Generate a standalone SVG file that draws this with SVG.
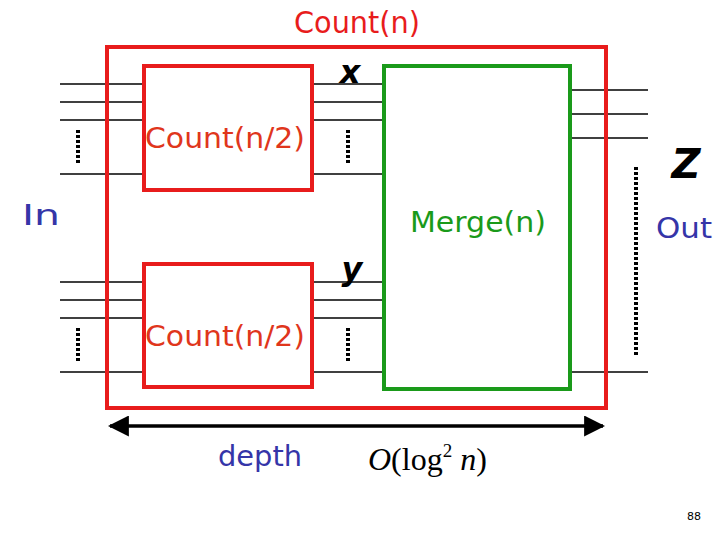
<svg xmlns="http://www.w3.org/2000/svg" width="720" height="540" viewBox="0 0 720 540">
<defs>
<style>
.t{font-family:"DejaVu Sans","Liberation Sans",sans-serif}
.w{stroke:#000;stroke-width:1.3}
.dot{stroke:#000;stroke-width:4;stroke-dasharray:3 2}
.red{fill:none;stroke:#e81c1c;stroke-width:4}
.grn{fill:none;stroke:#1a9a1a;stroke-width:4}
.blue{fill:#3535a8}
</style>
<marker id="ah" viewBox="0 0 10 10" refX="9" refY="5" markerWidth="6" markerHeight="6" orient="auto-start-reverse"><path d="M0,0 L10,5 L0,10 z" fill="#000"/></marker>
</defs>
<rect width="720" height="540" fill="#fff"/>
<g id="wires">
<g class="w">
<line x1="60" y1="84" x2="144" y2="84"/><line x1="60" y1="102" x2="144" y2="102"/><line x1="60" y1="120" x2="144" y2="120"/><line x1="60" y1="174" x2="144" y2="174"/>
<line x1="60" y1="282" x2="144" y2="282"/><line x1="60" y1="300" x2="144" y2="300"/><line x1="60" y1="318" x2="144" y2="318"/><line x1="60" y1="372" x2="144" y2="372"/>
<line x1="312" y1="84" x2="384" y2="84"/><line x1="312" y1="102" x2="384" y2="102"/><line x1="312" y1="120" x2="384" y2="120"/><line x1="312" y1="174" x2="384" y2="174"/>
<line x1="312" y1="282" x2="384" y2="282"/><line x1="312" y1="300" x2="384" y2="300"/><line x1="312" y1="318" x2="384" y2="318"/><line x1="312" y1="372" x2="384" y2="372"/>
<line x1="570" y1="90" x2="648" y2="90"/><line x1="570" y1="114" x2="648" y2="114"/><line x1="570" y1="138" x2="648" y2="138"/><line x1="570" y1="372" x2="648" y2="372"/>
</g>
<line class="dot" x1="78" y1="130" x2="78" y2="163"/>
<line class="dot" x1="78" y1="328" x2="78" y2="361"/>
<line class="dot" x1="348" y1="130" x2="348" y2="163"/>
<line class="dot" x1="348" y1="328" x2="348" y2="361"/>
<line class="dot" x1="636" y1="167" x2="636" y2="355"/>
<line x1="110" y1="426" x2="603" y2="426" stroke="#000" stroke-width="3.5" marker-start="url(#ah)" marker-end="url(#ah)"/>
</g>
<g id="count-n">
<rect class="red" x="107" y="47" width="499" height="361"/>
<text class="t" x="357" y="33" font-size="30" fill="#e81c1c" text-anchor="middle" textLength="126" lengthAdjust="spacingAndGlyphs">Count(n)</text>
</g>
<g id="count-upper">
<rect class="red" x="144" y="66" width="168" height="124"/>
<text class="t" x="145" y="148" font-size="29" fill="#e0361c" textLength="160" lengthAdjust="spacingAndGlyphs">Count(n/2)</text>
</g>
<g id="count-lower">
<rect class="red" x="144" y="264" width="168" height="123"/>
<text class="t" x="145" y="346" font-size="29" fill="#e0361c" textLength="160" lengthAdjust="spacingAndGlyphs">Count(n/2)</text>
</g>
<g id="merge">
<rect class="grn" x="384" y="66" width="186" height="323"/>
<text class="t" x="410" y="232" font-size="29" fill="#1a9a1a" textLength="136" lengthAdjust="spacingAndGlyphs">Merge(n)</text>
</g>
<g id="labels">
<text class="t blue" x="22" y="225" font-size="29" textLength="38" lengthAdjust="spacingAndGlyphs">In</text>
<text class="t blue" x="656" y="238" font-size="29" textLength="56" lengthAdjust="spacingAndGlyphs">Out</text>
<text class="t blue" x="218" y="466" font-size="29" textLength="84" lengthAdjust="spacingAndGlyphs">depth</text>
<text x="368" y="470" font-family="'Liberation Serif',serif" font-size="32" fill="#000"><tspan font-style="italic">O</tspan>(log<tspan font-size="19" dy="-13">2</tspan><tspan dy="13" font-style="italic"> n</tspan>)</text>
<text x="350" y="83" font-family="'DejaVu Sans',sans-serif" font-size="32" font-weight="bold" font-style="italic" text-anchor="middle" fill="#000">x</text>
<text x="352" y="280" font-family="'DejaVu Sans',sans-serif" font-size="32" font-weight="bold" font-style="italic" text-anchor="middle" fill="#000">y</text>
<text x="686" y="178" font-family="'DejaVu Sans',sans-serif" font-size="40" font-weight="bold" font-style="italic" text-anchor="middle" fill="#000">Z</text>
<text x="694" y="520" font-family="'DejaVu Sans',sans-serif" font-size="11" text-anchor="middle" fill="#000">88</text>
</g>
</svg>
